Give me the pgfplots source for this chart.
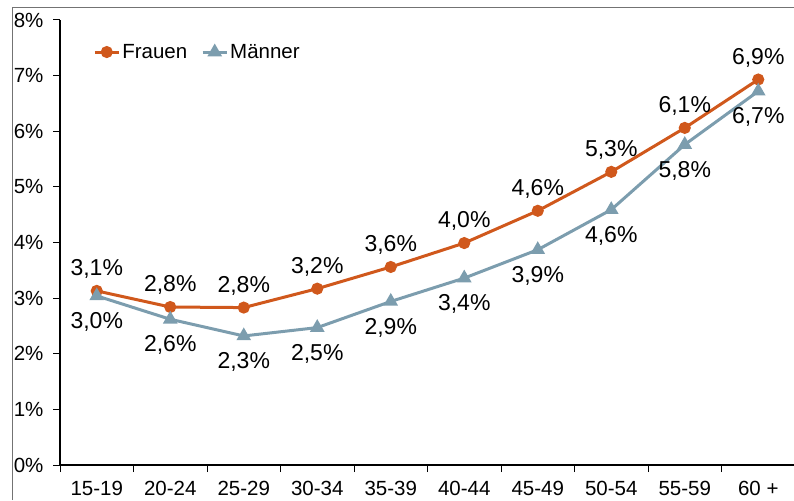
\documentclass[border=0pt]{standalone}
\usepackage{fontspec}
\setmainfont{Liberation Sans}
\usepackage{pgfplots}
\pgfplotsset{compat=1.18}
\definecolor{frauen}{RGB}{208,88,28}
\definecolor{maenner}{RGB}{124,157,174}
\begin{document}
\begin{tikzpicture}
\useasboundingbox (0,0) rectangle (794pt,500pt);
\draw[black!55, line width=1pt] (12pt,0) -- (12pt,492pt) -- (794pt,492pt);
\begin{axis}[
  at={(60pt,35pt)}, anchor=south west,
  scale only axis, width=735pt, height=445pt,
  xmin=-0.5, xmax=9.5, ymin=0, ymax=8,
  clip=false,
  axis x line=bottom, axis y line=left,
  axis line style={-, line width=1.2pt, black},
  tick align=outside,
  xtick={0,...,9},
  xticklabels={15-19,20-24,25-29,30-34,35-39,40-44,45-49,50-54,55-59,60 +},
  major x tick style={draw=none},
  minor xtick={-0.5,0.5,...,9.5},
  minor tick length=7pt,
  major tick length=7pt,
  every tick/.style={black, line width=1pt},
  ytick={0,...,8},
  yticklabel={\pgfmathprintnumber{\tick}\%},
  /pgf/number format/assume math mode=true,
  ticklabel style={font=\fontsize{20.5}{23}\selectfont},
  xticklabel style={yshift=-6pt},
  yticklabel style={xshift=-6pt},
  legend style={at={(0.045,0.928)}, anchor=west, draw=none, fill=none,
    font=\fontsize{20.5}{23}\selectfont, inner sep=0pt,
    /tikz/every even column/.append style={column sep=12pt}},
  legend columns=2,
  legend image code/.code={\draw[mark repeat=2,mark phase=2] plot coordinates {(0pt,0pt) (12pt,0pt) (24pt,0pt)};},
  nodes near coords={\pgfmathprintnumber[fixed,fixed zerofill,precision=1,use comma]{\pgfplotspointmeta}\%},
]
\addplot[color=frauen, line width=3pt, mark=*, mark size=4.5pt,
  every node near coord/.append style={anchor=center, yshift=22pt, text=black, font=\fontsize{23}{26}\selectfont}]
  coordinates {(0,3.13) (1,2.84) (2,2.83) (3,3.17) (4,3.56) (5,3.99) (6,4.57) (7,5.27) (8,6.06) (9,6.93)};
\addlegendentry{Frauen}
\addplot[color=maenner, line width=3pt, mark=triangle*, mark size=5.5pt,
  every node near coord/.append style={anchor=center, yshift=-26pt, text=black, font=\fontsize{23}{26}\selectfont}]
  coordinates {(0,3.04) (1,2.62) (2,2.32) (3,2.47) (4,2.94) (5,3.36) (6,3.87) (7,4.59) (8,5.76) (9,6.72)};
\addlegendentry{Männer}
\end{axis}
\end{tikzpicture}
\end{document}
